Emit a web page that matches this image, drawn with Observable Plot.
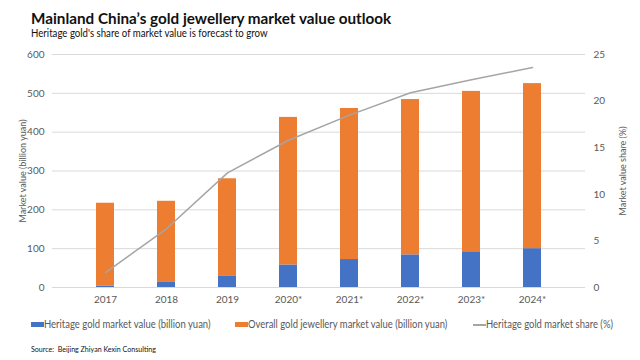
<!DOCTYPE html>
<html><head><meta charset="utf-8">
<script src="https://cdn.jsdelivr.net/npm/d3@7"></script>
<script src="https://cdn.jsdelivr.net/npm/@observablehq/plot@0.6"></script>
<style>
body{margin:0;background:#fff;font-family:Lato,"Open Sans",sans-serif;}
#wrap{position:relative;width:640px;height:360px;overflow:hidden;background:#fff}
.txt{position:absolute;white-space:nowrap;transform-origin:0 0;line-height:1}
#title{left:31px;font-weight:700;color:#111}
#subtitle{left:31px;color:#111}
#chart{position:absolute;left:0;top:44px}
.leg{color:#595959}
.sw{position:absolute;top:322px;height:5px}
#source{left:31px;color:#111}
</style></head>
<body><div id="wrap">
<div id="title" class="txt">Mainland China’s gold jewellery market value outlook</div>
<div id="subtitle" class="txt">Heritage gold's share of market value is forecast to grow</div>
<div id="chart"></div>
<div id="legend"></div>
<div id="source" class="txt">Source:&nbsp; Beijing Zhiyan Kexin Consulting</div>
</div>
<script>
const years = ["2017","2018","2019","2020*","2021*","2022*","2023*","2024*"];
const heritage = [3,13,30,58,72,84,92,100];
const overall = [214,209,250,380,389,400,413,425];
const share = [1.6,6.3,12.3,15.8,18.5,20.9,22.3,23.6];
const leftTicks = [0,100,200,300,400,500,600];
const rightTicks = [0,5,10,15,20,25];
const seriesNames = ["Heritage gold market value (billion yuan)","Overall gold jewellery market value (billion yuan)","Heritage gold market share (%)"];
const colors = ["#4472C4","#ED7D31","#A5A5A5"];

const FONT = "Lato, 'Open Sans', sans-serif";
const k = 600/25;
const rows = years.flatMap((y,i)=>[{year:y,s:seriesNames[0],v:heritage[i]},{year:y,s:seriesNames[1],v:overall[i]}]);
const lineRows = years.map((y,i)=>({year:y,v:share[i]*k}));

const plot = Plot.plot({
  width:640, height:266, marginTop:10, marginBottom:23, marginLeft:52, marginRight:55,
  style:{fontFamily:FONT, fontSize:"10px", color:"#595959", background:"transparent"},
  x:{domain:years, padding:0.7, label:null},
  y:{domain:[0,600], label:null},
  color:{domain:seriesNames.slice(0,2), range:colors.slice(0,2)},
  marks:[
    Plot.gridY(leftTicks,{stroke:"#d9d9d9",strokeOpacity:1}),
    Plot.barY(rows, Plot.stackY({x:"year", y:"v", fill:"s"})),
    Plot.lineY(lineRows,{x:"year", y:"v", stroke:colors[2], strokeWidth:1.5}),
    Plot.axisX({tickSize:0, tickPadding:8, label:null}),
    Plot.axisY(leftTicks,{anchor:"left", tickSize:0, tickPadding:8, label:"Market value (billion yuan)", labelAnchor:"center", labelArrow:"none", labelOffset:33}),
    Plot.axisY(rightTicks.map(d=>d*k),{anchor:"right", tickFormat:d=>String(d/k), tickSize:0, tickPadding:8, label:"Market value share (%)", labelAnchor:"center", labelArrow:"none", labelOffset:40})
  ]
});
plot.querySelectorAll('g[aria-label="y-axis label"]').forEach(g=>g.setAttribute("font-size","9px"));
document.getElementById("chart").appendChild(plot);

const ctx = document.createElement("canvas").getContext("2d");
function measure(text, size, weight){ ctx.font = `${weight||400} ${size}px ${FONT}`; return ctx.measureText(text).width; }
// place text: left, baseline-ish top, font size, target width (scaleX to fit)
function place(el, left, top, size, targetW, weight){
  el.style.left = left+"px"; el.style.top = top+"px"; el.style.fontSize = size+"px";
  const w = measure(el.textContent, size, weight);
  el.style.transform = `scaleX(${targetW/w})`;
}
place(document.getElementById("title"), 31, 10, 16, 361, 700);
place(document.getElementById("subtitle"), 31, 26.5, 11.5, 237, 400);
place(document.getElementById("source"), 31, 345, 8, 125, 400);

const legend = document.getElementById("legend");
const legPos = [31,235,473];
const legW = [167,200,127];
seriesNames.forEach((name,i)=>{
  const sw = document.createElement("div");
  sw.className="sw";
  sw.style.left=legPos[i]+"px";
  sw.style.width="13px";
  sw.style.background=colors[i];
  if(i===2){sw.style.height="1.5px";sw.style.top="324px";}
  legend.appendChild(sw);
  const t = document.createElement("div");
  t.className="txt leg";
  t.textContent=name;
  legend.appendChild(t);
  place(t, legPos[i]+13, 319, 10.5, legW[i], 400);
});
</script>
</body></html>
